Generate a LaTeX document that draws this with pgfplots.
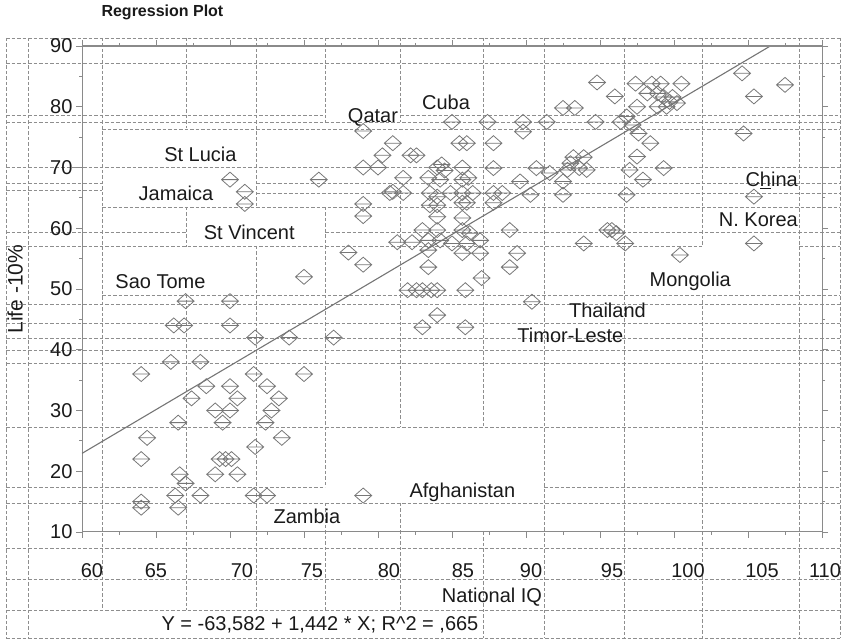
\documentclass[border=0pt]{standalone}
\usepackage{fontspec}
\setmainfont{Liberation Sans}
\usepackage{pgfplots}
\pgfplotsset{compat=1.18}
\definecolor{gridc}{HTML}{8E8E8E}
\definecolor{axc}{HTML}{8A8A8A}
\definecolor{mk}{HTML}{777777}
\definecolor{txt}{HTML}{1A1A1A}
\newcommand\lbl{\fontsize{20}{24}\selectfont}
\pgfdeclareplotmark{dline}{%
 \pgfpathmoveto{\pgfqpoint{-8.5pt}{0pt}}%
 \pgfpathlineto{\pgfqpoint{0pt}{7.5pt}}%
 \pgfpathlineto{\pgfqpoint{8.5pt}{0pt}}%
 \pgfpathlineto{\pgfqpoint{0pt}{-7.5pt}}%
 \pgfpathclose
 \pgfpathmoveto{\pgfqpoint{-8.5pt}{0pt}}%
 \pgfpathlineto{\pgfqpoint{8.5pt}{0pt}}%
 \pgfusepathqstroke}

\pgfplotstableread{
x y
64 36
64.4 25.5
64 22
64 15
64 14
66 38
66.5 28
66.2 44
66.9 44
67 48
66.6 19.5
66.3 16
67 18
66.5 14
68 16
68 38
67.4 32
68.4 34
69 30
69.5 28
70 34
70 30
70.5 32
69 19.5
69.3 22
69.7 22
70.1 22
70.5 19.5
70 44
70 48
71.7 42
71.6 36
72.5 34
73.3 32
72.8 30
72.4 28
73.5 25.5
71.7 24
71.6 16
72.5 16
74 42
75 36
77 42
79 16
70 68
71 66
71 64
76 68
75 52
79 76
79 70
79 64
79 62
80 70
80.3 72
81 74
78 56
79 54
81 66
85 77.5
87.4 77.5
89.8 77.5
89.8 75.9
91.4 77.5
92.5 79.8
93.3 79.8
94.7 77.5
96.4 77.5
96.8 78.4
97.2 77
97.6 75.6
98.4 74
85.5 74
86 74
87.8 74
94.8 84
96 81.7
97.4 83.8
97.5 80
98.5 83.8
99.1 83.8
100.5 83.8
98.2 82.2
98.9 82.2
99.3 81.6
99.9 81.6
98.9 80
99.5 80
100.2 80.6
99.7 80.8
104.6 85.5
105.4 81.7
107.5 83.6
104.7 75.6
97.5 71.8
97 69.6
97.9 68
99.3 69.9
96.8 65.5
105.4 65.2
105.4 57.5
100.4 55.6
93.2 71.7
93.9 71.7
93 70.7
90.7 69.9
87.8 69.9
89.6 67.7
91.6 69.1
92.5 67.7
93.6 69.9
94.1 69.6
92.8 69.6
90.3 65.5
92.5 65.5
88.4 65.8
88.9 59.7
89.4 55.9
88.9 53.6
93.9 57.5
95.5 59.7
95.8 59.7
96.1 59.2
96.7 57.5
90.4 47.9
87.8 65.8
82.2 72
82.6 72
84 70
84.3 70.5
84.5 69.5
85.7 70
81.7 68.3
83.4 68.3
84.2 68
85.7 68
86.1 68.3
80.8 65.8
81.7 65.8
83.5 65.8
84 65.2
84.9 65.8
85.7 65.8
86.4 65.8
85.7 64.2
86 64.2
83.5 63.8
84 63.8
87.8 64.2
85.7 61.7
84 61.9
83 59.7
84 59.7
85.7 59.7
86.2 59.2
81.3 57.7
82.3 57.7
83.4 58
84.2 58
85 57.5
86 57.5
86.9 58
83.4 56.4
85.7 55.9
86.9 55.9
83.4 53.6
87 51.8
82 49.8
82.6 49.8
83 49.8
83.6 49.8
84 49.8
85.9 49.8
84 45.7
83 43.7
85.9 43.7
}\iqdata

\begin{document}
\begin{tikzpicture}
\useasboundingbox (0pt,0pt) rectangle (844pt,642pt);
\tikzset{dl/.style={gridc, line width=0.8pt, dash pattern=on 3.5pt off 2pt}}
% horizontal dashed layout lines: y(px)/x1/x2
\foreach \y/\a/\b in {38/6/840, 63/6/840, 115/6/325, 115/400/840, 122/6/840, 129/102/840,
  167/6/840, 183/6/102, 183/256/840, 190/6/102, 193/256/840, 207/102/840, 232/6/186, 232/325/840,
  246/6/702, 246/799/840, 295/102/840, 304/6/840, 323/6/840, 338/6/840, 350/6/840, 363/6/840,
  427/6/840, 487/6/325, 487/544/840, 503/6/840, 548/6/840, 579/6/840, 610/6/840, 638/6/840}
  \draw[dl] ({\a*1pt},{(642-\y)*1pt}) -- ({\b*1pt},{(642-\y)*1pt});
% vertical dashed layout lines: x(px)/y1/y2
\foreach \x/\a/\b in {6/38/638, 28/38/638, 102/38/610, 186/38/128, 186/207/247, 186/295/610,
  256/38/207, 256/246/610, 325/38/122, 325/207/487, 325/503/610, 400/38/122, 400/190/427, 400/503/610,
  483/38/427, 483/532/638, 544/38/638, 624/38/638, 702/38/246, 702/295/638, 799/38/638, 840/38/638}
  \draw[dl] ({\x*1pt},{(642-\a)*1pt}) -- ({\x*1pt},{(642-\b)*1pt});

\begin{axis}[
  at={(82pt,110pt)}, anchor=south west,
  scale only axis, width=740pt, height=486pt,
  xmin=60, xmax=110, ymin=10, ymax=90,
  xtick={60,65,...,110}, ytick={10,20,...,90},
  minor x tick num=1, minor y tick num=1,
  tick align=outside,
  major tick length=6pt, minor tick length=3pt,
  axis line style={axc, line width=1pt},
  every tick/.style={axc, line width=0.8pt},
  every minor tick/.style={axc, line width=0.8pt},
  every tick label/.append style={font=\lbl, text=txt},
  /pgf/number format/assume math mode=true,
  xticklabels={\kern20pt 60, 65, \kern24pt 70, \kern16pt 75, \kern22pt 80, \kern22pt 85,
    \kern10pt 90, \kern24pt 95, \kern28pt 100, \kern28pt 105, \kern6pt 110},
  xticklabel style={anchor=center, yshift=-33pt},
  clip=false,
]
\addplot[only marks, mark=dline, mark options={mk, line width=0.8pt}] table[x=x, y=y] {\iqdata};
\addplot[axc!85!black, line width=1.1pt] coordinates {(60,22.938) (106.51,90)};
\draw[axc, line width=2.2pt] (rel axis cs:0,1) -- (rel axis cs:1,1);
\node[font=\lbl, text=txt] at (axis cs:79.66,78.3) {Qatar};
\node[font=\lbl, text=txt] at (axis cs:84.6,80.8) {Cuba};
\node[font=\lbl, text=txt] at (axis cs:68,72.2) {St Lucia};
\node[font=\lbl, text=txt] at (axis cs:66.35,65.8) {Jamaica};
\node[font=\lbl, text=txt] at (axis cs:71.3,59.4) {St Vincent};
\node[font=\lbl, text=txt] at (axis cs:65.3,51.2) {Sao Tome};
\node[font=\lbl, text=txt] at (axis cs:106.6,67.9) {C\underline{h}ina};
\node[font=\lbl, text=txt] at (axis cs:105.7,61.4) {N. Korea};
\node[font=\lbl, text=txt] at (axis cs:101.1,51.2) {Mongolia};
\node[font=\lbl, text=txt] at (axis cs:95.5,46.5) {Thailand};
\node[font=\lbl, text=txt] at (axis cs:93,42.3) {Timor-Leste};
\node[font=\lbl, text=txt] at (axis cs:85.7,16.6) {Afghanistan};
\node[font=\lbl, text=txt] at (axis cs:75.2,12.5) {Zambia};
\end{axis}

\node[font=\bfseries\fontsize{16}{19}\selectfont, text=txt, anchor=west] at (98pt,630pt) {Regression Plot};
\node[font=\fontsize{21}{25}\selectfont, text=txt, rotate=90] at (15pt,353pt) {Life -10\%};
\node[font=\lbl, text=txt] at (492pt,45pt) {National IQ};
\node[font=\lbl, text=txt] at (320pt,17pt) {Y = -63,582 + 1,442 * X; R\textasciicircum 2 = ,665};
\end{tikzpicture}
\end{document}
